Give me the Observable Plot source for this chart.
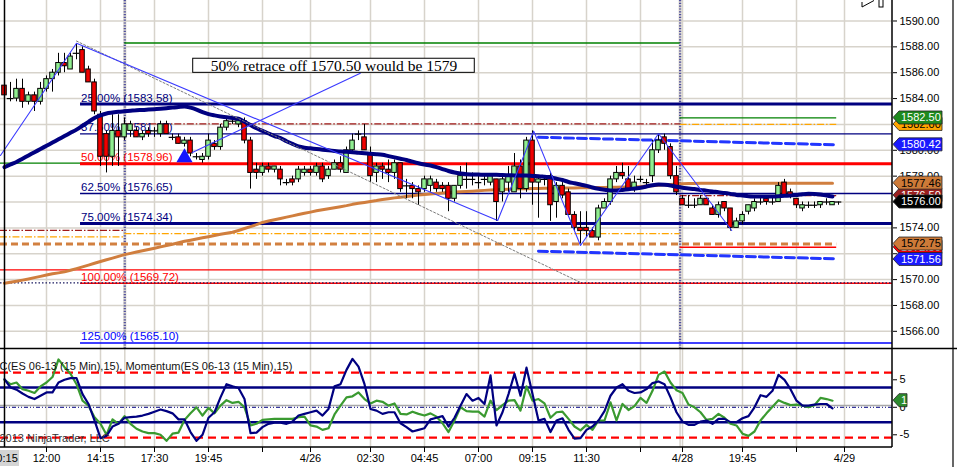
<!DOCTYPE html>
<html><head><meta charset="utf-8">
<script src="https://cdn.jsdelivr.net/npm/d3@7"></script>
<script src="https://cdn.jsdelivr.net/npm/@observablehq/plot@0.6"></script>
<style>
html,body{margin:0;padding:0;background:#fff;}
#chart{position:relative;width:957px;height:467px;overflow:hidden;background:#fff;}
#chart svg{display:block;}
</style></head><body><div id="chart"></div>
<script>
// ---------------- data ----------------
const barOpen = [1585.0,1584.0,1584.0,1584.75,1583.75,1584.25,1583.75,1584.75,1585.5,1586.0,1586.75,1586.25,1587.5,1587.75,1586.25,1585.25,1582.75,1581.25,1579.5,1581.5,
1581.0,1581.5,1581.5,1581.0,1581.5,1581.5,1581.25,1582.0,1581.0,1581.0,1580.5,1580.75,1579.5,1579.25,1579.5,1580.5,1580.25,1581.75,1582.25,1582.0,
1582.25,1580.75,1578.5,1578.25,1578.75,1578.5,1578.5,1577.5,1577.75,1577.75,1578.25,1578.5,1578.25,1578.75,1578.0,1578.5,1579.0,1578.25,1580.0,1581.25,
1581.0,1579.75,1578.25,1578.75,1578.5,1578.25,1579.0,1577.25,1577.25,1577.0,1577.0,1577.25,1577.5,1577.25,1577.25,1576.25,1577.25,1577.75,1577.75,1577.5,
1577.75,1577.5,1577.75,1576.75,1577.5,1576.75,1578.75,1577.0,1580.75,1577.5,1577.75,1578.0,1576.0,1577.25,1576.75,1575.0,1574.0,1574.0,1573.75,1573.25,
1575.5,1576.0,1577.75,1578.25,1577.75,1577.0,1577.75,1577.5,1578.0,1580.0,1581.0,1580.25,1578.0,1576.25,1575.75,1575.75,1575.75,1576.25,1575.5,1575.0,
1576.0,1575.5,1574.0,1574.5,1575.25,1575.5,1576.0,1576.25,1576.0,1576.0,1577.5,1576.75,1576.25,1575.5,1575.75,1575.75,1575.75,1576.0,1575.75,1576.0];
const barHigh = [1585.25,1585.25,1585.5,1585.5,1584.5,1584.5,1585.25,1585.75,1586.25,1587.5,1587.5,1587.5,1588.25,1588.0,1586.5,1585.5,1583.0,1581.5,1582.75,1582.75,
1582.5,1582.25,1581.75,1581.5,1581.75,1581.75,1582.25,1582.25,1581.25,1581.25,1581.0,1581.0,1579.75,1579.75,1581.25,1580.75,1582.0,1582.5,1582.5,1582.5,
1582.5,1581.0,1579.0,1579.0,1579.0,1578.75,1578.75,1577.75,1578.0,1578.75,1578.75,1578.75,1579.0,1579.0,1578.75,1579.25,1579.5,1580.25,1581.25,1581.5,
1582.0,1580.25,1579.0,1579.0,1579.25,1579.25,1579.0,1577.75,1577.5,1577.25,1578.0,1578.0,1577.75,1577.5,1577.5,1577.25,1578.75,1579.0,1578.25,1578.0,
1578.0,1578.0,1577.75,1578.0,1578.75,1579.75,1579.25,1581.0,1581.5,1578.0,1578.0,1578.25,1577.5,1577.5,1577.0,1575.25,1575.25,1575.25,1574.0,1575.75,
1576.25,1578.0,1578.75,1579.0,1578.75,1578.0,1578.0,1577.75,1580.75,1581.25,1581.25,1580.5,1578.75,1576.5,1576.5,1576.25,1576.5,1576.25,1575.75,1576.0,
1576.0,1575.5,1574.75,1575.25,1575.75,1576.25,1576.5,1576.5,1576.5,1577.5,1577.75,1577.0,1576.25,1576.0,1576.0,1576.0,1576.0,1576.25,1576.0,1576.0];
const barLow = [1584.25,1583.75,1583.75,1583.25,1583.5,1583.0,1583.5,1584.5,1584.5,1585.75,1586.0,1586.25,1587.0,1586.0,1585.25,1582.75,1578.75,1578.25,1578.75,1578.75,
1580.75,1581.0,1581.0,1580.75,1581.0,1581.0,1581.0,1581.25,1580.75,1580.5,1580.25,1579.5,1579.25,1579.0,1579.25,1580.0,1580.0,1581.5,1582.0,1581.75,
1580.5,1577.0,1577.75,1578.0,1578.25,1578.25,1577.25,1577.25,1577.25,1577.5,1578.0,1578.0,1578.0,1577.5,1577.75,1578.5,1578.25,1578.25,1579.75,1580.75,
1580.0,1577.5,1577.5,1577.75,1577.5,1577.75,1576.75,1576.25,1576.25,1575.75,1576.75,1576.75,1576.75,1576.75,1575.25,1576.0,1577.0,1577.0,1577.25,1577.0,
1577.25,1577.25,1574.5,1576.0,1576.75,1576.75,1576.25,1576.75,1575.75,1574.75,1577.25,1574.5,1574.75,1576.25,1575.0,1573.75,1572.75,1573.25,1573.25,1573.0,
1575.5,1575.75,1577.5,1577.75,1577.0,1576.75,1577.5,1577.25,1577.5,1579.75,1580.0,1577.75,1576.5,1575.75,1575.5,1575.5,1575.75,1575.75,1575.0,1574.75,
1575.25,1573.75,1574.0,1574.25,1575.0,1575.25,1575.75,1575.75,1575.75,1576.0,1576.5,1576.25,1575.5,1575.25,1575.5,1575.5,1575.5,1575.75,1575.75,1575.75];
const barClose = [1584.25,1584.0,1584.75,1583.75,1584.25,1583.75,1584.75,1585.5,1586.0,1586.75,1586.5,1587.25,1587.5,1586.0,1585.25,1583.0,1579.5,1579.5,1581.5,1581.0,
1582.0,1582.0,1581.0,1581.25,1581.25,1581.5,1582.0,1581.25,1581.0,1580.5,1580.75,1579.75,1579.5,1579.5,1580.75,1580.25,1581.75,1582.25,1582.25,1582.25,
1580.75,1578.25,1578.25,1578.75,1578.5,1578.75,1577.75,1577.5,1577.5,1578.5,1578.5,1578.25,1578.75,1577.75,1578.5,1579.0,1578.5,1580.0,1580.75,1581.25,
1580.0,1578.0,1578.75,1578.5,1578.25,1579.0,1577.0,1577.25,1577.0,1576.75,1577.75,1577.75,1577.0,1577.0,1576.25,1577.25,1578.0,1577.75,1577.75,1577.5,
1577.75,1578.0,1576.0,1577.75,1578.0,1578.75,1577.0,1580.75,1577.5,1577.75,1577.75,1575.75,1577.25,1576.5,1575.0,1574.0,1573.75,1573.75,1573.25,1575.5,
1576.0,1577.75,1578.25,1578.0,1577.0,1577.5,1577.75,1577.5,1580.0,1580.75,1580.5,1578.0,1576.75,1575.75,1575.75,1575.75,1576.25,1575.75,1575.0,1575.75,
1575.5,1574.0,1574.5,1575.0,1575.75,1576.0,1576.0,1576.0,1576.0,1577.25,1576.5,1576.5,1575.75,1575.75,1575.75,1575.75,1576.0,1576.0,1576.0,1576.0];

const maNavy = [1578.7,1578.9,1579.1,1579.35,1579.6,1579.85,1580.1,1580.35,1580.6,1580.85,1581.1,1581.35,1581.6,1581.9,1582.2,1582.5,1582.7,1582.85,1582.92,1582.98,
1583.02,1583.06,1583.1,1583.12,1583.15,1583.18,1583.21,1583.25,1583.3,1583.35,1583.39,1583.3,1583.15,1582.95,1582.8,1582.7,1582.62,1582.55,1582.5,1582.45,
1582.2,1581.95,1581.7,1581.5,1581.3,1581.1,1580.95,1580.7,1580.5,1580.3,1580.2,1580.15,1580.1,1580.05,1580.0,1579.95,1579.9,1579.88,1579.85,1579.8,
1579.77,1579.73,1579.7,1579.65,1579.55,1579.45,1579.35,1579.25,1579.12,1579.0,1578.9,1578.82,1578.7,1578.55,1578.4,1578.28,1578.2,1578.15,1578.13,1578.12,
1578.1,1578.1,1578.1,1578.08,1578.07,1578.06,1578.05,1578.05,1578.02,1578.0,1577.95,1577.9,1577.8,1577.7,1577.55,1577.45,1577.35,1577.25,1577.12,1577.02,
1576.95,1576.9,1576.9,1576.93,1576.98,1577.05,1577.1,1577.2,1577.3,1577.35,1577.33,1577.28,1577.18,1577.1,1577.05,1577.0,1576.93,1576.88,1576.82,1576.75,
1576.7,1576.63,1576.55,1576.5,1576.45,1576.43,1576.42,1576.42,1576.43,1576.45,1576.48,1576.5,1576.55,1576.6,1576.63,1576.62,1576.58,1576.5,1576.43];
const maBrown = [1569.72,1569.8,1569.88,1569.96,1570.05,1570.15,1570.25,1570.35,1570.45,1570.52,1570.6,1570.72,1570.85,1570.98,1571.12,1571.26,1571.4,1571.53,1571.66,1571.8,
1571.93,1572.03,1572.13,1572.23,1572.33,1572.43,1572.53,1572.63,1572.74,1572.85,1572.96,1573.05,1573.14,1573.23,1573.32,1573.41,1573.5,1573.58,1573.66,1573.8,
1573.95,1574.1,1574.25,1574.42,1574.53,1574.63,1574.73,1574.83,1574.93,1575.03,1575.13,1575.22,1575.32,1575.4,1575.48,1575.56,1575.64,1575.72,1575.82,1575.9,
1575.97,1576.04,1576.11,1576.2,1576.26,1576.32,1576.37,1576.42,1576.48,1576.54,1576.58,1576.62,1576.66,1576.7,1576.74,1576.77,1576.8,1576.82,1576.84,1576.87,
1576.9,1576.92,1576.94,1576.96,1576.98,1577.0,1577.02,1577.03,1577.04,1577.05,1577.06,1577.07,1577.07,1577.08,1577.08,1577.09,1577.1,1577.1,1577.11,1577.12,
1577.13,1577.14,1577.15,1577.16,1577.17,1577.19,1577.2,1577.23,1577.26,1577.3,1577.33,1577.36,1577.39,1577.41,1577.43,1577.44,1577.45,1577.46,1577.46,1577.46,
1577.46,1577.46,1577.46,1577.46,1577.46,1577.46,1577.46,1577.46,1577.46,1577.46,1577.46,1577.46,1577.46,1577.46,1577.46,1577.46,1577.46,1577.46,1577.46];

const momentumNavy = [5.1,3.6,3.2,2.5,1.9,1.5,2.1,2.7,2.7,4.5,5.0,5.3,5.3,2.4,0.6,-2.4,-5.6,-5.2,-3.5,-3.0,
-1.9,-1.8,-1.7,-1.5,-1.2,-0.8,-0.4,-0.7,-1.1,-2.2,-2.2,-4.5,-6.1,-5.0,-1.9,-0.9,1.8,4.2,3.8,3.5,
1.5,-4.7,-4.6,-3.6,-3.0,-2.8,-2.8,-3.0,-2.6,-1.5,-1.2,-0.9,-0.6,-1.5,-0.3,3.8,4.2,6.8,8.8,7.4,
4.2,-0.3,-0.6,-1.2,-0.9,-0.9,-2.9,-3.6,-4.4,-4.1,-3.8,-2.2,-1.9,-1.6,-3.5,-1.9,0.3,2.4,1.2,1.7,
0.6,5.8,-3.3,-0.9,2.4,6.1,2.1,7.2,2.4,-2.4,-2.1,-4.5,-2.4,-2.0,-4.1,-5.7,-5.6,-4.1,-3.5,-2.4,
-0.7,2.1,3.6,4.2,3.0,2.6,2.7,3.3,4.4,4.7,4.2,1.8,-0.9,-2.6,-3.2,-3.2,-2.6,-2.4,-3.0,-2.1,
-2.1,-2.7,-2.7,-2.0,-1.6,0,2.2,1.9,3.0,5.9,5.0,3.3,1.2,0.3,0.3,0.5,0.6,0.6,-0.2];
const oscGreen = [5.0,4.2,4.5,3.3,3.0,2.6,3.8,4.5,5.5,8.7,7.3,6.1,4.2,1.2,0.3,-1.8,-3.0,-5.0,-2.2,-3.0,
-1.6,-3.0,-3.9,-4.4,-4.7,-4.7,-5.0,-6.1,-4.8,-4.6,-2.3,-1.1,0,-1.5,-0.1,-1.1,0.3,1.3,0.8,1.0,
0,-3.3,-3.0,-2.3,-2.2,-2.1,-2.1,-2.1,-2.1,-1.8,-1.7,-3.3,-3.5,-4.1,-3.8,-1.3,0.3,1.8,2.0,2.7,
1.5,0.7,1.2,1.0,0.3,0.7,-1.2,-1.3,-0.8,-1.2,-1.5,-1.1,-1.7,-2.9,-4.5,-2.4,0,-0.7,-0.8,-0.8,
-1.7,1.2,-0.5,0.4,1.2,1.3,-0.6,3.8,1.2,1.5,0.7,-1.9,-0.9,-0.8,-2.1,-3.5,-4.2,-3.2,-4.1,-2.4,
-2.4,0.9,-2.4,0.6,-0.5,0.2,1.7,0.8,3.0,5.9,6.5,4.5,3.1,2.6,0.5,0,-0.9,-2.3,-2.1,-1.2,
-1.9,-3.0,-3.3,-4.8,-5.2,-4.4,-2.4,-1.1,0.1,1.3,0.8,0.4,0.5,0.3,0,0.4,1.7,1.5,1.2];

const priceTicks = [1566,1568,1570,1572,1574,1576,1578,1580,1582,1584,1586,1588,1590];
const timeTickIdx = [7,16,25,34,43,51,61,70,79,88,97,106,113,123,132,140];
const timeTickLabels = ["12:00","14:15","17:30","19:45","","4/26","02:30","04:45","07:00","09:15","11:30","","4/28","19:45","","4/29"];
const crosshairIdx = 0;
const crosshairLabel = "10:15";

const fibPct = ["25.00%","37.50%","50.00%","62.50%","75.00%","100.00%","125.00%"];
const fibPrice = [1583.58,1581.27,1578.96,1576.65,1574.34,1569.72,1565.10];
const fibStartIdx = 12.67;

const sessionBreakIdx = [20.05, 112.6];
const sessionBounds = [-0.67, 20.05, 112.6, 138.7];
const priorGreen = [1579.0, 1588.3, 1582.5];
const priorDarkRed = [1573.8, 1582.05, 1576.5];
const priorOrange = [1573.3, 1573.55, 1582.0];
const priorRed = [1570.75, 1570.75, 1572.5];
const dashedBrownLevel = 1572.75;
const dottedLevel = 1569.75;

const zigzagIdx = [-0.67, 12, 82.2, 88.2, 96, 109, 121.2];
const zigzagPrice = [1579.6, 1588.28, 1574.57, 1581.48, 1572.64, 1581.28, 1573.8];
const channelIdx = [89, 138.2];
const channelUpper = [1581.01, 1580.43];
const channelLower = [1572.2, 1571.61];
const grayTrendIdx = [12, 96];
const grayTrendPrice = [1588.45, 1569.78];
const arrowIdx = [30];
const arrowPrice = [1579.44];
const noteText = "50% retrace off 1570.50 would be 1579";
const noteIdx = [31.45, 78.38];
const notePrice = [1585.99, 1587.08];
const noteLineIdx = [31.3, 59.3];
const noteLinePrice = [1579.83, 1585.96];

const tagPrices = [1582.00, 1582.50, 1580.42, 1576.50, 1577.46, 1576.00, 1572.50, 1572.75, 1571.56];
const tagLabels = ["1582.00","1582.50","1580.42","1576.50","1577.46","1576.00","1572.50","1572.75","1571.56"];

const indRedLevels = [6.3, -5.5];
const indNavyLevels = [3.6, -2.7];
const indTicks = [-5, 0, 5];
const indTitle = "C(ES 06-13 (15 Min),15), Momentum(ES 06-13 (15 Min),15)";
const copyright = "2013 NinjaTrader, LLC";

// ---------------- derived tables ----------------
const bars = barOpen.map((o, i) => ({i, o, h: barHigh[i], l: barLow[i], c: barClose[i]}));
const upBars = bars.filter(d => d.c > d.o);
const downBars = bars.filter(d => d.c < d.o);
const dojiBars = bars.filter(d => d.c === d.o);
const fib = fibPct.map((p, k) => ({pct: p, price: fibPrice[k]}));
const seg = vals => vals.map((v, k) => ({x1: sessionBounds[k], x2: sessionBounds[k + 1], y: v}));
const pts = (xs, ys) => xs.map((x, k) => ({x, y: ys[k]}));
const series = arr => arr.map((v, i) => ({x: i, y: v}));

const FONT = "'Liberation Sans', Arial, sans-serif";
const GRID = "#d7d3cb";
const NAVY = "#000080";
const W = 957, H1 = 348, H2 = 119, MR = 65;
const xDomain = [-0.667, 148];

const fibColor = {"25.00%": NAVY, "37.50%": NAVY, "50.00%": "#ff0000", "62.50%": NAVY, "75.00%": NAVY, "100.00%": "#ff0000", "125.00%": "#0000ff"};
const fibWidth = {"25.00%": 3, "37.50%": 1.2, "50.00%": 3, "62.50%": 1.5, "75.00%": 3, "100.00%": 1.6, "125.00%": 1.5};

// ---------------- price panel ----------------
const price = Plot.plot({
  width: W, height: H1, marginTop: 0, marginBottom: 0, marginLeft: 0, marginRight: MR,
  style: {fontFamily: FONT, fontSize: "11px", background: "white", overflow: "visible"},
  x: {domain: xDomain, axis: null},
  y: {domain: [1564.671, 1591.585]},
  marks: [
    Plot.ruleY(priceTicks, {stroke: GRID, strokeWidth: 1.5}),
    Plot.ruleX(timeTickIdx, {stroke: GRID, strokeWidth: 1.5}),
    Plot.ruleX(sessionBreakIdx, {stroke: GRID, strokeWidth: 3}),
    Plot.ruleX(sessionBreakIdx, {stroke: "#4f4f9f", strokeWidth: 2.2, strokeDasharray: "1.2,1.6"}),
    // prior-session levels
    Plot.ruleY(seg(priorRed), {y: "y", x1: "x1", x2: "x2", stroke: "#ff0000", strokeWidth: 1.4}),
    Plot.ruleY(seg(priorGreen), {y: "y", x1: "x1", x2: "x2", stroke: "#008000", strokeWidth: 1.3}),
    Plot.ruleY(seg(priorOrange), {y: "y", x1: "x1", x2: "x2", stroke: "#ffa500", strokeWidth: 1.2, strokeDasharray: "7,2,1.5,2"}),
    Plot.ruleY(seg(priorDarkRed), {y: "y", x1: "x1", x2: "x2", stroke: "#a01818", strokeWidth: 1.2, strokeDasharray: "7,2,1.5,2"}),
    Plot.ruleY([dashedBrownLevel], {x1: () => sessionBounds[0], x2: () => sessionBounds[3], stroke: "#d28040", strokeWidth: 3, strokeDasharray: "7,4"}),
    // fibonacci levels
    ...fibPct.map(p => Plot.ruleY(fib.filter(d => d.pct === p), {y: "price", x1: () => fibStartIdx, x2: () => xDomain[1], stroke: fibColor[p], strokeWidth: fibWidth[p]})),
    Plot.ruleY([dottedLevel], {stroke: "#1a1a60", strokeWidth: 1.3, strokeDasharray: "1.5,2"}),
    ...fibPct.map(p => Plot.text(fib.filter(d => d.pct === p), {x: () => fibStartIdx + 0.1, y: "price", text: d => `${d.pct} (${d.price.toFixed(2)})`, textAnchor: "start", lineAnchor: "bottom", dy: -2.5, fill: fibColor[p], fontSize: 11.5})),
    // channel
    Plot.line(pts(channelIdx, channelUpper), {x: "x", y: "y", stroke: "#2236ff", strokeWidth: 3, strokeDasharray: "9,4"}),
    Plot.line(pts(channelIdx, channelLower), {x: "x", y: "y", stroke: "#2236ff", strokeWidth: 3, strokeDasharray: "9,4"}),
    // brown SMA
    Plot.line(series(maBrown), {x: "x", y: "y", stroke: "#d07e3e", strokeWidth: 3}),
    // candles
    Plot.ruleX(bars, {x: "i", y1: "l", y2: "h", stroke: "black", strokeWidth: 1}),
    Plot.rect(upBars, {x1: d => d.i - 0.38, x2: d => d.i + 0.38, y1: "o", y2: "c", fill: "#90ee90", stroke: "black", strokeWidth: 1}),
    Plot.rect(downBars, {x1: d => d.i - 0.38, x2: d => d.i + 0.38, y1: "o", y2: "c", fill: "#f00000", stroke: "black", strokeWidth: 1}),
    Plot.ruleY(dojiBars, {y: "c", x1: d => d.i - 0.55, x2: d => d.i + 0.55, stroke: "black", strokeWidth: 1.2}),
    // navy MA
    Plot.line(series(maNavy), {x: "x", y: "y", stroke: NAVY, strokeWidth: 4, curve: "monotone-x"}),
    // drawings
    Plot.line(pts(grayTrendIdx, grayTrendPrice), {x: "x", y: "y", stroke: "#7a7a7a", strokeWidth: 1, strokeDasharray: "2,2"}),
    Plot.line(pts(zigzagIdx, zigzagPrice), {x: "x", y: "y", stroke: "#3a3aff", strokeWidth: 1.1}),
    Plot.line(pts(noteLineIdx, noteLinePrice), {x: "x", y: "y", stroke: "#3a3aff", strokeWidth: 1.1}),
    Plot.dot(pts(arrowIdx, arrowPrice), {x: "x", y: "y", symbol: "triangle", r: 6, fill: "#1414ff", stroke: "none"}),
    Plot.rect([noteText], {x1: () => noteIdx[0], x2: () => noteIdx[1], y1: () => notePrice[0], y2: () => notePrice[1], fill: "white", stroke: "black", strokeWidth: 1}),
    Plot.text([noteText], {x: () => (noteIdx[0] + noteIdx[1]) / 2, y: () => (notePrice[0] + notePrice[1]) / 2, text: d => d, fontFamily: "'Liberation Serif', 'Times New Roman', serif", fontSize: 15.5, fill: "black"}),
    // crosshair
    Plot.ruleX([crosshairIdx], {stroke: "black", strokeWidth: 1.5}),
    Plot.axisY({anchor: "right", ticks: priceTicks, tickFormat: d => d.toFixed(2), tickSize: 4, tickPadding: 3, label: null, fill: "black", fontSize: 11})
  ]
});

// ---------------- indicator panel ----------------
const ind = Plot.plot({
  width: W, height: H2, marginTop: 0, marginBottom: 20, marginLeft: 0, marginRight: MR,
  style: {fontFamily: FONT, fontSize: "11px", background: "white", overflow: "visible"},
  x: {domain: xDomain},
  y: {domain: [-7.31, 10.69]},
  marks: [
    Plot.ruleX(timeTickIdx.concat(sessionBreakIdx), {stroke: GRID, strokeWidth: 1.5}),
    Plot.ruleY([0], {stroke: "#a8a8a8", strokeWidth: 1.5, dy: -1.8}),
    Plot.ruleY([0], {stroke: NAVY, strokeWidth: 1, strokeDasharray: "4,2,1,2,1,2"}),
    Plot.ruleY(indRedLevels, {stroke: "#ff0000", strokeWidth: 2.2, strokeDasharray: "8,5"}),
    Plot.ruleY(indNavyLevels, {stroke: NAVY, strokeWidth: 2.5}),
    Plot.line(series(oscGreen), {x: "x", y: "y", stroke: "#3a9a30", strokeWidth: 2.2}),
    Plot.line(series(momentumNavy), {x: "x", y: "y", stroke: NAVY, strokeWidth: 2.2}),
    Plot.ruleX([crosshairIdx], {stroke: "black", strokeWidth: 1.5}),
    Plot.text([indTitle], {frameAnchor: "top-left", dy: 18, dx: -1, text: d => d, textAnchor: "start", lineAnchor: "middle", fill: "#111", fontSize: 11}),
    Plot.text([copyright], {frameAnchor: "bottom-left", dy: -9, dx: -1, text: d => d, textAnchor: "start", lineAnchor: "middle", fill: "#333", fontSize: 11}),
    Plot.axisX({ticks: timeTickIdx, tickFormat: d => timeTickLabels[timeTickIdx.indexOf(d)], tickSize: 5, tickPadding: 2, label: null, fontSize: 11, fill: "black"}),
    Plot.axisY({anchor: "right", ticks: indTicks, tickFormat: d => String(d), tickSize: 4, tickPadding: 3, label: null, fontSize: 11, fill: "black"})
  ]
});

const chart = document.getElementById("chart");
chart.appendChild(price);
chart.appendChild(ind);

// ---------------- chrome & price tags ----------------
const px = price.scale("x"), py = price.scale("y");
const iy = ind.scale("y"), ix = ind.scale("x");
const axisX = px.apply(xDomain[1]);
const ps = d3.select(price), is = d3.select(ind);

function line(sel, x1, y1, x2, y2, w) {
  sel.append("line").attr("x1", x1).attr("y1", y1).attr("x2", x2).attr("y2", y2)
    .attr("stroke", "black").attr("stroke-width", w);
}
line(ps, axisX, 0, axisX, H1, 1.5);
line(ps, 953, 0, 953, H1, 1.2);
line(is, 0, 0.5, W, 0.5, 1.5);
line(is, axisX, 0, axisX, H2 - 20, 1.5);
line(is, 0, H2 - 20, axisX, H2 - 20, 1.5);
line(is, 953, 0, 953, H2, 1.2);

// small toolbar glyph at top right
ps.append("path").attr("d", "M862,7 L874,0.5 M862,7 L862,2").attr("stroke", "black").attr("fill", "none").attr("stroke-width", 1);
ps.append("rect").attr("x", 879).attr("y", -1).attr("width", 4).attr("height", 8).attr("fill", "white").attr("stroke", "black");

const tagStyle = [
  ["#ffa500", "black"], ["#1e8a1e", "white"], ["#1a1aff", "white"], ["#9a2020", "white"],
  ["#cd7a38", "black"], ["#000000", "white"], ["#ff0000", "white"], ["#cd7a38", "black"], ["#1a1aff", "white"]
];
function tag(sel, y, label, fill, color, x0, x1) {
  const h = 6.5;
  sel.append("path")
    .attr("d", `M${x0},${y} L${x0 + 6},${y - h} L${x1},${y - h} L${x1},${y + h} L${x0 + 6},${y + h} Z`)
    .attr("fill", fill).attr("stroke", "#222").attr("stroke-width", 0.8);
  sel.append("text").attr("x", x0 + 8).attr("y", y).attr("dy", "0.36em")
    .attr("text-anchor", "start")
    .attr("fill", color).attr("font-family", FONT).attr("font-size", 11).text(label);
}
tagPrices.forEach((p, k) => tag(ps, py.apply(p), tagLabels[k], tagStyle[k][0], tagStyle[k][1], axisX + 1, 942));
const lastGreen = oscGreen[oscGreen.length - 1];
tag(is, iy.apply(lastGreen), String(Math.round(lastGreen)), "#2e8b2e", "white", axisX + 1, 907);

// crosshair time label
const cx = ix.apply(crosshairIdx);
is.append("rect").attr("x", cx - 16).attr("y", H2 - 17).attr("width", 31).attr("height", 16).attr("fill", "#d4d4d4");
is.append("text").attr("x", cx).attr("y", H2 - 13).attr("dy", "0.71em").attr("text-anchor", "middle")
  .attr("font-family", FONT).attr("font-size", 11).attr("fill", "black").text(crosshairLabel);
</script></body></html>
